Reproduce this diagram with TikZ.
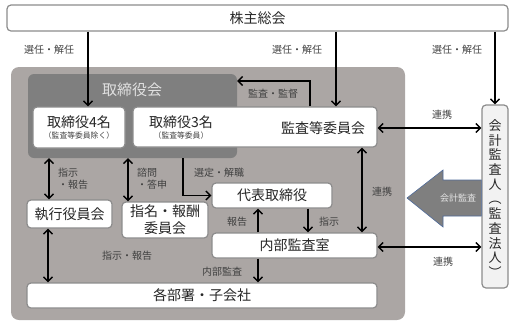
\documentclass[tikz,border=0pt]{standalone}
\usepackage{fontspec}
\setmainfont{Noto Sans CJK JP}
\usetikzlibrary{arrows.meta,calc}
\definecolor{outerg}{RGB}{171,166,164}
\definecolor{boardg}{RGB}{127,127,127}
\definecolor{edgeg}{RGB}{140,140,140}
\definecolor{txt}{RGB}{38,38,38}
\definecolor{lbl}{RGB}{64,64,64}
\definecolor{arrowblue}{RGB}{79,107,154}
\definecolor{kaikeif}{RGB}{242,242,242}
\tikzset{
 wbox/.style={draw=edgeg, line width=1.2pt, fill=white, rounded corners=4pt, inner sep=0pt, font=\fontsize{14}{16}\selectfont, text=txt},
 maintext/.style={font=\fontsize{14}{16}\selectfont, text=txt, inner sep=0pt},
 subtext/.style={font=\fontsize{7.8}{9}\selectfont, text=lbl, inner sep=0pt},
 lbltext/.style={font=\fontsize{10}{12}\selectfont, text=lbl, inner sep=0pt},
 arr/.style={line width=1.4pt, -{Straight Barb[length=4.5pt,width=9pt]}},
 darr/.style={line width=1.4pt, {Straight Barb[length=4.5pt,width=9pt]}-{Straight Barb[length=4.5pt,width=9pt]}},
}
\begin{document}
\begin{tikzpicture}[x=1pt,y=-1pt]
\useasboundingbox (0,0) rectangle (520,330);
% containers
\node[fill=outerg, rounded corners=8pt, minimum width=394pt, minimum height=253pt, inner sep=0pt] (outer) at (208,193.5) {};
\node[fill=boardg, rounded corners=6pt, minimum width=209pt, minimum height=84pt, inner sep=0pt] (board) at (132.5,116) {};
\node[font=\fontsize{15}{17}\selectfont, text=white!88!black, inner sep=0pt] (boardlbl) at (132,90) {取締役会};
% top
\node[wbox, minimum width=501pt, minimum height=26pt] (soukai) at (257.5,18) {株主総会};
% boxes
\node[wbox, minimum width=92pt, minimum height=41pt, align=center] (dir4) at (79,127.5) {};
\node[maintext] (dir4a) at (79,122) {取締役4名};
\node[subtext] (dir4b) at (79,136) {（監査等委員除く）};
\node[wbox, minimum width=244pt, minimum height=40pt] (kansa) at (255,127) {};
\node[maintext] (dir3a) at (181,122) {取締役3名};
\node[subtext] (dir3b) at (181,135.5) {（監査等委員）};
\node[maintext] (kansalbl) at (323,128) {監査等委員会};
\node[wbox, minimum width=120pt, minimum height=25pt] (daihyo) at (272,195.5) {代表取締役};
\node[wbox, minimum width=165pt, minimum height=25pt] (naibu) at (294.5,245.5) {内部監査室};
\node[wbox, minimum width=350pt, minimum height=25pt] (kakubu) at (202,295.5) {各部署・子会社};
\node[wbox, minimum width=85pt, minimum height=28pt] (shikko) at (69.5,214) {執行役員会};
\node[wbox, minimum width=86pt, minimum height=36pt, align=center, font=\fontsize{14}{17}\selectfont] (shimei) at (165,220) {指名・報酬\\委員会};
% accounting auditor
\node[draw=edgeg, line width=1.2pt, fill=kaikeif, rounded corners=4pt, minimum width=26pt, minimum height=183pt, inner sep=0pt] (kaikei) at (495,196.5) {};
\node[font=\fontsize{13}{14.7}\selectfont, align=center, inner sep=0pt, text=txt] (kaikeitxt) at (495,198.5) {会\\計\\監\\査\\人\\︵\\監\\査\\法\\人\\︶};
% block arrow
\draw[fill=boardg, draw=arrowblue, line width=0.6pt] (407,198) -- (443,170) -- (443,180) -- (kaikei.west |- 0,180) -- (kaikei.west |- 0,216) -- (443,216) -- (443,227) -- cycle;
\node[font=\fontsize{9}{11}\selectfont, text=white!90!black, inner sep=0pt] (kaikeiarrlbl) at (458,198) {会計監査};
% connectors from top
\draw[arr] (soukai.south -| 88,0) -- (88,0 |- dir4.north);
\draw[arr] (soukai.south -| 336,0) -- (336,0 |- kansa.north);
\draw[arr] (soukai.south -| kaikei.north) -- (kaikei.north);
\node[lbltext] (l1) at (49,50) {選任・解任};
\node[lbltext] (l2) at (297,50) {選任・解任};
\node[lbltext] (l3) at (457,50) {選任・解任};
% audit/supervise
\draw[arr] (310,0 |- kansa.north) |- (board.east |- 0,81);
\node[lbltext] (l4) at (273,94) {監査・監督};
% cooperation
\draw[darr] (kansa.east |- 0,128) -- (kaikei.west |- 0,128);
\node[lbltext] (l5) at (442,115) {連携};
\draw[darr] (naibu.east |- 0,247) -- (kaikei.west |- 0,247);
\node[lbltext] (l6) at (443,262) {連携};
\draw[darr] (362,0 |- kansa.south) -- (362,0 |- naibu.north);
\node[lbltext] (l7) at (382,192) {連携};
% board to lower
\draw[darr] (49,0 |- board.south) -- (49,0 |- shikko.north);
\node[lbltext, anchor=west] (l8a) at (58,173) {指示};
\node[lbltext, anchor=west] (l8b) at (58,185) {・報告};
\draw[darr] (128,0 |- board.south) -- (128,0 |- shimei.north);
\node[lbltext, anchor=west] (l9a) at (137,173) {諮問};
\node[lbltext, anchor=west] (l9b) at (137,185) {・答申};
\draw[arr] (183,0 |- board.south) |- (daihyo.west);
\node[lbltext] (l10) at (219,173) {選定・解職};
% rep director & internal audit
\draw[arr] (258,0 |- naibu.north) -- (258,0 |- daihyo.south);
\node[lbltext] (l11) at (237,222) {報告};
\draw[arr] (308,0 |- daihyo.south) -- (308,0 |- naibu.north);
\node[lbltext] (l12) at (329,222) {指示};
\draw[arr] (258,0 |- naibu.south) -- (258,0 |- kakubu.north);
\node[lbltext] (l13) at (222,272) {内部監査};
\draw[darr] (48,0 |- shikko.south) -- (48,0 |- kakubu.north);
\node[lbltext] (l14) at (127,256) {指示・報告};
\end{tikzpicture}
\end{document}
